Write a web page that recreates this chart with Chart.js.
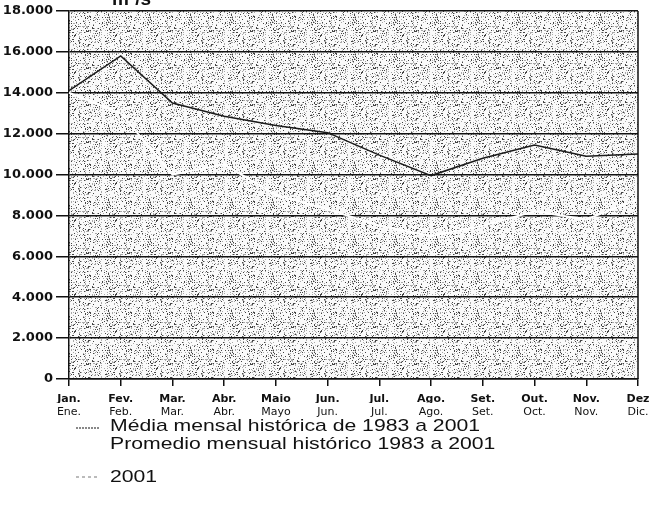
<!DOCTYPE html>
<html>
<head>
<meta charset="utf-8">
<script src="https://cdn.jsdelivr.net/npm/chart.js@4.4.1/dist/chart.umd.min.js"></script>
<style>
  html, body { margin: 0; padding: 0; background: #fff; }
  #wrap { width: 649px; height: 517px; position: relative; }
</style>
</head>
<body>
<div id="wrap"><canvas id="grafico"></canvas></div>
<script>
// datos (m3/s)
const mesesPt = ["Jan.", "Fev.", "Mar.", "Abr.", "Maio", "Jun.", "Jul.", "Ago.", "Set.", "Out.", "Nov.", "Dez"];
const mesesEs = ["Ene.", "Feb.", "Mar.", "Abr.", "Mayo", "Jun.", "Jul.", "Ago.", "Set.", "Oct.", "Nov.", "Dic."];
const mediaHistorica = [14100, 15800, 13500, 12850, 12400, 12050, 10950, 9950, 10800, 11450, 10900, 11000];
const serie2001 = [14000, 13000, 10000, 10500, 9000, 8300, 7500, 7000, 7500, 8200, 7800, 8800];
const leyenda = [
  ["Média mensal histórica de 1983 a 2001", "Promedio mensual histórico 1983 a 2001"],
  ["2001"]
];
const unidad = "m³/s";

// textura punteada del fondo (patron fijo, sin aleatorios)
function hacerTrama(ctx) {
  const w = 41, h = 37;
  const c = document.createElement("canvas");
  c.width = w; c.height = h;
  const g = c.getContext("2d");
  g.fillStyle = "#fafafa";
  g.fillRect(0, 0, w, h);
  for (let y = 0; y < h; y++) {
    for (let x = 0; x < w; x++) {
      let k = (Math.imul(x + 1, 73856093) ^ Math.imul(y + 1, 19349663)) >>> 0;
      k = ((k ^ (k >>> 13)) >>> 0) % 100;
      if (k < 8) { g.fillStyle = "#444"; g.fillRect(x, y, 1, 1); }
      else if (k < 20) { g.fillStyle = "#aaa"; g.fillRect(x, y, 1, 1); }
    }
  }
  return ctx.createPattern(c, "repeat");
}

const fuente = "'Liberation Sans', Arial, sans-serif";
const fuenteEjes = "'DejaVu Sans', sans-serif";

const fondo = {
  id: "fondo",
  beforeDraw(chart) {
    const { ctx, chartArea: a } = chart;
    ctx.save();
    ctx.fillStyle = hacerTrama(ctx);
    ctx.fillRect(a.left, a.top, a.right - a.left, a.bottom - a.top);
    ctx.restore();
  },
  afterDraw(chart) {
    const { ctx, chartArea: a } = chart;
    ctx.save();
    ctx.strokeStyle = "#111";
    ctx.lineWidth = 1.5;
    ctx.beginPath();
    ctx.moveTo(a.right, a.top);
    ctx.lineTo(a.right, a.bottom);
    ctx.stroke();

    // unidad arriba, cortada por el borde
    ctx.fillStyle = "#111";
    ctx.font = "bold 19px " + fuente;
    ctx.textBaseline = "alphabetic";
    ctx.fillText(unidad, 112, 5);

    // leyenda (texto algo ensanchado como en el original)
    ctx.font = "17px " + fuente;
    ctx.textBaseline = "middle";
    const esc = 370 / ctx.measureText(leyenda[0][0]).width;
    ctx.save();
    ctx.translate(110, 0);
    ctx.scale(esc, 1);
    ctx.fillText(leyenda[0][0], 0, 426);
    ctx.fillText(leyenda[0][1], 0, 444);
    ctx.fillText(leyenda[1][0], 0, 477);
    ctx.restore();

    ctx.lineWidth = 2;
    ctx.setLineDash([2, 1]);
    ctx.strokeStyle = "#888";
    ctx.beginPath(); ctx.moveTo(76, 428); ctx.lineTo(100, 428); ctx.stroke();
    ctx.strokeStyle = "#bbb";
    ctx.setLineDash([3, 3]);
    ctx.beginPath(); ctx.moveTo(76, 477); ctx.lineTo(100, 477); ctx.stroke();
    ctx.restore();
  }
};

const sinRelleno = s => { s.paddingLeft = 0; s.paddingRight = 0; };

new Chart(document.getElementById("grafico"), {
  type: "line",
  data: {
    labels: mesesPt,
    datasets: [
      {
        label: "2001",
        data: serie2001,
        borderColor: "#ffffff",
        borderWidth: 2,
        pointRadius: 0,
        tension: 0,
        fill: false
      },
      {
        label: leyenda[0][0],
        data: mediaHistorica,
        borderColor: "#1a1a1a",
        borderWidth: 1.5,
        pointRadius: 0,
        tension: 0,
        fill: false
      }
    ]
  },
  options: {
    animation: false,
    responsive: true,
    maintainAspectRatio: false,
    layout: { padding: { top: 11, right: 11, left: 0, bottom: 98 } },
    plugins: { legend: { display: false }, tooltip: { enabled: false } },
    scales: {
      x: {
        type: "category",
        offset: false,
        afterFit: s => { s.height = 24; sinRelleno(s); },
        grid: { drawOnChartArea: false, color: "#111", tickLength: 7, lineWidth: 1.5 },
        border: { color: "#111", width: 1.5 },
        ticks: { color: "#111", font: { family: fuenteEjes, size: 11, weight: "bold" }, padding: 7, maxRotation: 0, autoSkip: false }
      },
      x2: {
        type: "category",
        labels: mesesEs,
        position: "bottom",
        offset: false,
        afterFit: s => { s.height = 16; sinRelleno(s); },
        grid: { display: false, drawTicks: false },
        border: { display: false },
        ticks: { color: "#111", font: { family: fuenteEjes, size: 11 }, padding: 3, maxRotation: 0, autoSkip: false }
      },
      y: {
        min: 0,
        max: 18000,
        afterFit: s => { s.width = 69; s.paddingTop = 0; s.paddingBottom = 0; },
        grid: { color: "#111", lineWidth: 1.5, tickLength: 13 },
        border: { color: "#111", width: 1.5 },
        ticks: {
          stepSize: 2000,
          color: "#111",
          padding: 3,
          font: { family: fuenteEjes, size: 13, weight: "bold" },
          callback: v => v === 0 ? "0" : (v / 1000) + ".000"
        }
      }
    }
  },
  plugins: [fondo]
});
</script>
</body>
</html>
